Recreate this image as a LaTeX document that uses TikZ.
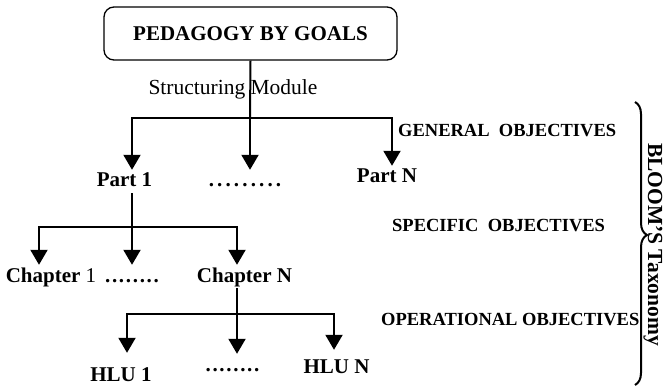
\documentclass[tikz,border=0pt]{standalone}
\usepackage{fontspec}
\setmainfont{Liberation Serif}
\usetikzlibrary{arrows.meta,decorations.pathreplacing}
\begin{document}
\begin{tikzpicture}[x=1pt,y=-1pt,
  conn/.style={line width=2pt},
  arr/.style={line width=2pt,-{Triangle[width=17pt,length=15pt]}},
  lbl/.style={font=\bfseries\fontsize{21}{24}\selectfont, inner sep=2pt, text height=15pt, text depth=4pt, anchor=base},
  obj/.style={font=\bfseries\fontsize{18.5}{22}\selectfont, inner sep=0pt, anchor=base west},
  dotrow/.style={lbl, font=\bfseries\fontsize{21}{24}\selectfont\addfontfeature{LetterSpace=#1}},
  bracestyle/.style={line width=2pt, decorate, decoration={brace, amplitude=12pt, aspect=0.47}},
]
\useasboundingbox (0,0) rectangle (666,387);

% root
\node[draw, line width=1.3pt, rounded corners=10pt, minimum width=293pt, minimum height=53pt,
      inner sep=0pt, font=\bfseries\fontsize{21}{24}\selectfont] (root) at (250.5,33.5) {PEDAGOGY BY GOALS};
\node[font=\fontsize{21.5}{24}\selectfont, anchor=base, inner sep=0pt] (sm) at (233,95) {Structuring Module};

% level 1
\coordinate (j1) at (250,118);
\coordinate (g1l) at (132,118);
\coordinate (g1r) at (392,118);
\node[lbl] (p1) at (124.5,187) {Part 1};
\node[dotrow=15] (d1) at (245,187) {.........};
\node[lbl] (pn) at (387,183) {Part N};
\draw[conn] (root.south) -- (j1);
\draw[arr] (j1) -| (g1l |- p1.north);
\draw[arr] (j1) -- (j1 |- d1.north);
\draw[arr] (j1) -| (g1r |- pn.north);

% level 2
\coordinate (j2) at (132,227);
\coordinate (g2l) at (39,227);
\coordinate (g2r) at (237,227);
\node[lbl] (c1) at (51,282) {Chapter {\mdseries 1}};
\node[dotrow=8] (d2) at (132,282) {........};
\node[lbl] (cn) at (244.5,282) {Chapter N};
\draw[conn] (g1l |- p1.south) -- (j2);
\draw[arr] (j2) -| (g2l |- c1.north);
\draw[arr] (j2) -- (j2 |- d2.north);
\draw[arr] (j2) -| (g2r |- cn.north);

% level 3
\coordinate (j3) at (237,314);
\coordinate (g3l) at (127,314);
\coordinate (g3r) at (334,314);
\node[lbl, text depth=0pt, inner ysep=0pt] (h1) at (121,381.5) {HLU 1};
\node[dotrow=8] (d3) at (232.5,371) {........};
\node[lbl] (hn) at (336.5,373) {HLU N};
\draw[conn] (g2r |- cn.south) -- (j3);
\draw[arr, shorten >=13.5pt] (j3) -| (g3l |- h1.north);
\draw[arr] (j3) -- (j3 |- d3.north);
\draw[arr, shorten >=6pt] (j3) -| (g3r |- hn.north);

% objectives
\node[obj] (gen) at (398,137) {GENERAL\ \ OBJECTIVES};
\node[obj] (spe) at (392,232) {SPECIFIC\ \ OBJECTIVES};
\node[obj] (ope) at (381,325) {OPERATIONAL OBJECTIVES};

% brace
\coordinate (bt) at (635,102);
\coordinate (bb) at (635,385);
\draw[bracestyle] (bt) -- (bb);
\node[rotate=-90, anchor=base, inner sep=0pt, font=\bfseries\fontsize{21.5}{24}\selectfont] (bloom) at (648,244.5) {BLOOM'S Taxonomy};
\end{tikzpicture}
\end{document}
